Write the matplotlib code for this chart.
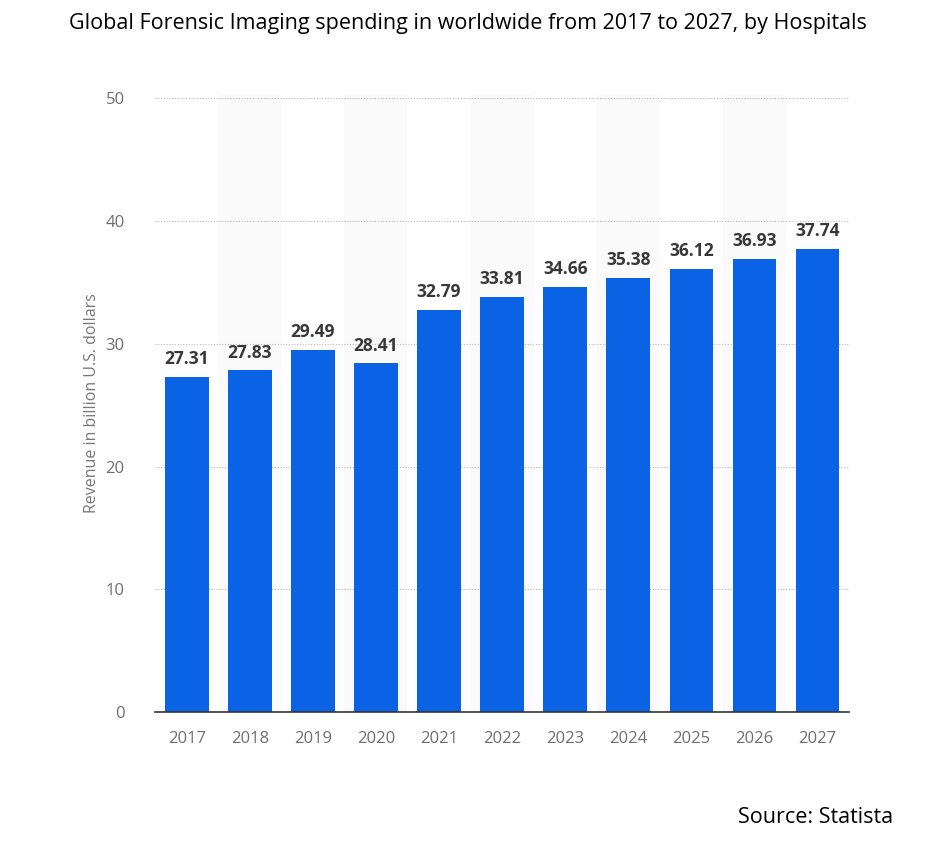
import matplotlib.pyplot as plt
import numpy as np

years = ["2017", "2018", "2019", "2020", "2021", "2022", "2023", "2024", "2025", "2026", "2027"]
revenue = [27.31, 27.83, 29.49, 28.41, 32.79, 33.81, 34.66, 35.38, 36.12, 36.93, 37.74]

plt.rcParams["font.family"] = ["Open Sans", "DejaVu Sans"]

fig = plt.figure(figsize=(9.35, 8.41), dpi=100)
ax = fig.add_axes([0.166, 0.1534, 0.742, 0.734])

x = np.arange(len(years))

# faint stripes behind every other column
for i in x[1::2]:
    ax.axvspan(i - 0.5, i + 0.5, ymin=0, ymax=1, color="#fafafa", zorder=0, lw=0)

bars = ax.bar(x, revenue, width=0.69, color="#0a63e4", zorder=3)

for xi, v in zip(x, revenue):
    ax.text(xi, v + 0.7, f"{v:.2f}", ha="center", va="bottom",
            fontsize=12.5, fontweight="bold", color="#383838", zorder=4)

ax.set_xlim(-0.5, len(years) - 0.5)
ax.set_ylim(0, 50.3)
ax.set_yticks([0, 10, 20, 30, 40, 50])
ax.set_xticks(x)
ax.set_xticklabels(years)
ax.yaxis.grid(True, linestyle=(0, (1, 1.5)), color="#bbbbbb", lw=0.8, zorder=1)
ax.tick_params(axis="both", length=0, labelsize=12, colors="#6e6e6e")
ax.tick_params(axis="x", pad=14)
ax.tick_params(axis="y", pad=22)

for s in ["top", "right", "left"]:
    ax.spines[s].set_visible(False)
ax.spines["bottom"].set_color("#333333")
ax.spines["bottom"].set_linewidth(1.2)
ax.spines["bottom"].set_zorder(5)

ax.set_ylabel("Revenue in billion U.S. dollars", fontsize=11.5, color="#777777")
ax.yaxis.set_label_coords(-0.08, 0.5)

fig.text(0.5, 0.972, "Global Forensic Imaging spending in worldwide from 2017 to 2027, by Hospitals",
         ha="center", va="center", fontsize=15.5, color="black")
fig.text(0.955, 0.028, "Source: Statista", ha="right", va="center", fontsize=15.5, color="black")

fig.savefig("out.png", dpi=100)
